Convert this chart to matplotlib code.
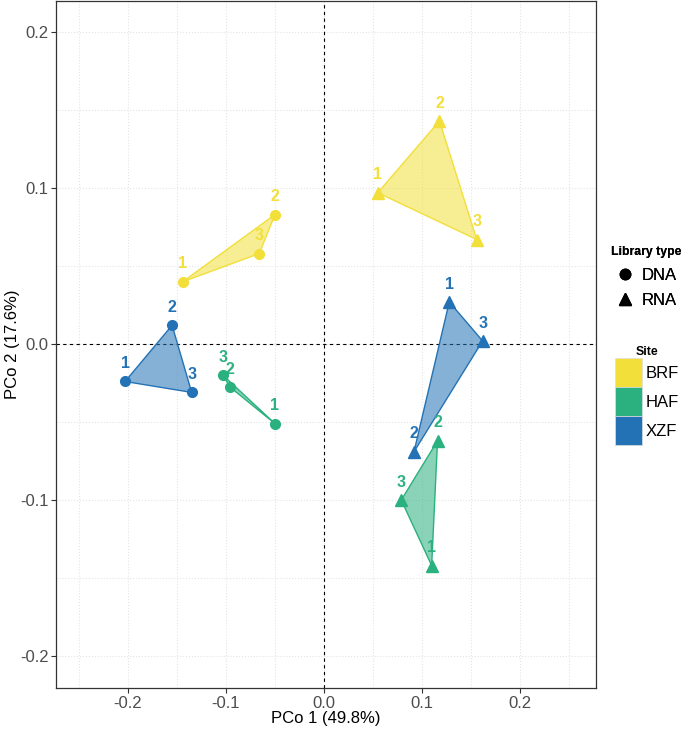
import numpy as np
import matplotlib
matplotlib.use('Agg')
import matplotlib.pyplot as plt
from matplotlib.patches import Polygon, Patch
from matplotlib.lines import Line2D

plt.rcParams['font.family'] = ['Liberation Sans', 'DejaVu Sans']

sites = ['BRF', 'HAF', 'XZF']
site_colors = ['#F2DF3A', '#2BB07F', '#2372B5']
reps = ['1', '2', '3']

# PCo scores (replicates 1, 2, 3)
dna_x = {'BRF': [-0.144, -0.050, -0.066],
         'HAF': [-0.050, -0.096, -0.103],
         'XZF': [-0.203, -0.155, -0.135]}
dna_y = {'BRF': [0.040, 0.083, 0.058],
         'HAF': [-0.051, -0.0275, -0.020],
         'XZF': [-0.024, 0.012, -0.031]}
rna_x = {'BRF': [0.055, 0.118, 0.156],
         'HAF': [0.110, 0.116, 0.079],
         'XZF': [0.128, 0.092, 0.162]}
rna_y = {'BRF': [0.097, 0.143, 0.067],
         'HAF': [-0.142, -0.062, -0.100],
         'XZF': [0.027, -0.069, 0.002]}

xlabel = 'PCo 1 (49.8%)'
ylabel = 'PCo 2 (17.6%)'

fig = plt.figure(figsize=(6.85, 7.31), dpi=100)
ax = fig.add_axes([0.0818, 0.0588, 0.788, 0.9398])

# background grid (dotted, very light)
ax.set_xticks(np.arange(-0.25, 0.26, 0.05), minor=True)
ax.set_yticks(np.arange(-0.2, 0.21, 0.05), minor=True)
ax.grid(True, which='both', linestyle=':', color='#E4E4E4', linewidth=0.8)
ax.set_axisbelow(True)

ax.axhline(0, color='black', linestyle='--', linewidth=0.8, dashes=(3, 3), zorder=1)
ax.axvline(0, color='black', linestyle='--', linewidth=0.8, dashes=(3, 3), zorder=1)

for xs_d, ys_d, mk, ms in [(dna_x, dna_y, 'o', 7), (rna_x, rna_y, '^', 8.5)]:
    for site, col in zip(sites, site_colors):
        xs = xs_d[site]
        ys = ys_d[site]
        poly = Polygon(np.column_stack([xs, ys]), closed=True, facecolor=col,
                       alpha=0.55, edgecolor='none', zorder=2)
        ax.add_patch(poly)
        edge = Polygon(np.column_stack([xs, ys]), closed=True, fill=False,
                       edgecolor=col, linewidth=1, zorder=2)
        ax.add_patch(edge)
        ax.plot(xs, ys, linestyle='none', marker=mk, markersize=ms,
                color=col, markeredgecolor=col, zorder=3)
        for x, y, r in zip(xs, ys, reps):
            ax.annotate(r, (x, y), xytext=(0, 7.5), textcoords='offset points',
                        ha='center', va='bottom', color=col, fontsize=11.5,
                        fontweight='bold', zorder=4)

ax.set_xlim(-0.2735, 0.2776)
ax.set_ylim(-0.2205, 0.2199)
ax.set_xticks([-0.2, -0.1, 0.0, 0.1, 0.2])
ax.set_yticks([-0.2, -0.1, 0.0, 0.1, 0.2])
ax.set_xticklabels(['-0.2', '-0.1', '0.0', '0.1', '0.2'])
ax.set_yticklabels(['-0.2', '-0.1', '0.0', '0.1', '0.2'])
ax.tick_params(which='major', length=3.5, color='#333333', labelcolor='#4D4D4D',
               labelsize=12, pad=2)
ax.tick_params(which='minor', length=0)
for sp in ax.spines.values():
    sp.set_color('#333333')
    sp.set_linewidth(0.9)

ax.set_xlabel(xlabel, fontsize=12)
ax.set_ylabel(ylabel, fontsize=12)
ax.xaxis.set_label_coords(0.5, -0.034)
ax.yaxis.set_label_coords(-0.066, 0.5)

# legends
shape_handles = [Line2D([], [], marker='o', linestyle='none', color='black', markersize=7.5),
                 Line2D([], [], marker='^', linestyle='none', color='black', markersize=9)]
leg1 = fig.legend(shape_handles, ['DNA', 'RNA'], title='Library type',
                  loc='upper left', bbox_to_anchor=(0.870, 0.684), frameon=False,
                  fontsize=12, title_fontproperties={'weight': 'bold', 'size': 8.8},
                  handlelength=1.2, handletextpad=0.4, labelspacing=0.6)
site_handles = [Patch(facecolor=c, edgecolor='#DDDDDD', linewidth=0.5) for c in site_colors]
leg2 = fig.legend(site_handles, sites, title='Site', loc='upper left',
                  bbox_to_anchor=(0.881, 0.542), frameon=False, fontsize=12,
                  title_fontproperties={'weight': 'bold', 'size': 8.8},
                  handlelength=1.62, handleheight=2.3, handletextpad=0.2,
                  labelspacing=0.0, borderpad=0.2)
fig.add_artist(leg1)

fig.savefig('out.png', dpi=100)
